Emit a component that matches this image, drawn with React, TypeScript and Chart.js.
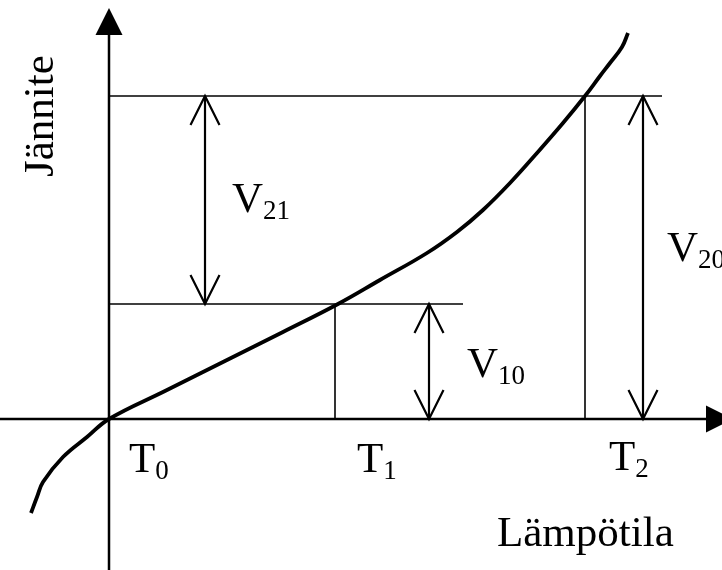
import React, { useEffect, useRef } from "react";
import { Chart, registerables } from "chart.js";

Chart.register(...registerables);

const W = 722;
const H = 570;

// Scale ranges (data units: temperature on x, voltage on y)
const X_MIN = -10.9;
const X_MAX = 61.3;
const Y_MIN = -15.1;
const Y_MAX = 41.9;

// Reference points T0, T1, T2 and the voltages at them
const T_LEVELS = [0, 22.6, 47.6];
const V_LEVELS = [0, 11.5, 32.3];

// Thermocouple characteristic curve
const curveT = [-7.8, -7.2, -6.6, -4.6, -2.2, 0, 5.6, 11.6, 17.4, 22.9, 27.1, 31.8, 34.8, 37.4, 40.1, 42.8, 45.4, 47.6, 49.1, 50.1, 51.3, 51.9];
const curveV = [-9.4, -7.8, -6.3, -3.8, -1.8, 0, 2.8, 5.8, 8.7, 11.5, 13.9, 16.6, 18.7, 20.9, 23.6, 26.6, 29.6, 32.3, 34.3, 35.6, 37.2, 38.6];

// Axis extents
const AXIS_X_END = 62.4; // arrow tip on T axis
const AXIS_Y_END = 41.1; // arrow tip on V axis
const REF_LINE_END = [0, 35.4, 55.3]; // horizontal guide ends at V1, V2

// Difference arrows: [x position, from level index, to level index]
const DIFF_X = [9.6, 32.0, 53.4];
const DIFF_FROM = [1, 0, 0];
const DIFF_TO = [2, 1, 2];

// Labels
const labelMain = ["T", "T", "T", "V", "V", "V"];
const labelSub = ["0", "1", "2", "21", "10", "20"];
const labelX = [2.0, 24.8, 50.0, 12.3, 35.8, 55.8];
const labelY = [-5.3, -5.3, -5.1, 20.7, 4.2, 15.8];
const xTitle = "Lämpötila";
const yTitle = "Jännite";
const xTitlePos = [38.8, -12.7];
const yTitlePos = [-5.6, 24.2];

const FONT = "'Liberation Serif', 'Times New Roman', serif";

function seg(x1: number, y1: number, x2: number, y2: number, width: number) {
  return {
    data: [
      { x: x1, y: y1 },
      { x: x2, y: y2 },
    ],
    borderColor: "#000",
    borderWidth: width,
    pointRadius: 0,
    showLine: true,
    borderCapStyle: "butt" as const,
  };
}

const decorPlugin = {
  id: "decor",
  afterDatasetsDraw(chart: any) {
    const ctx = chart.ctx as CanvasRenderingContext2D;
    const xs = chart.scales.x;
    const ys = chart.scales.y;
    const px = (v: number) => xs.getPixelForValue(v);
    const py = (v: number) => ys.getPixelForValue(v);

    ctx.save();
    ctx.fillStyle = "#000";
    ctx.strokeStyle = "#000";

    // Filled arrowheads on axes
    const tri = (tx: number, ty: number, dx: number, dy: number) => {
      const len = 27;
      const hw = 13.5;
      const bx = tx - dx * len;
      const by = ty - dy * len;
      ctx.beginPath();
      ctx.moveTo(tx, ty);
      ctx.lineTo(bx - dy * hw, by + dx * hw);
      ctx.lineTo(bx + dy * hw, by - dx * hw);
      ctx.closePath();
      ctx.fill();
    };
    tri(px(AXIS_X_END), py(0), 1, 0);
    tri(px(0), py(AXIS_Y_END), 0, -1);

    // Open arrowheads on difference arrows
    const open = (tx: number, ty: number, dir: number) => {
      const len = 29;
      const hw = 14.5;
      ctx.beginPath();
      ctx.moveTo(tx - hw, ty + dir * len);
      ctx.lineTo(tx, ty);
      ctx.lineTo(tx + hw, ty + dir * len);
      ctx.lineWidth = 2.2;
      ctx.lineJoin = "miter";
      ctx.stroke();
    };
    for (let i = 0; i < DIFF_X.length; i++) {
      const x = px(DIFF_X[i]);
      open(x, py(V_LEVELS[DIFF_TO[i]]), 1);
      open(x, py(V_LEVELS[DIFF_FROM[i]]), -1);
    }

    // Labels with subscripts
    ctx.textAlign = "left";
    ctx.textBaseline = "alphabetic";
    for (let i = 0; i < labelMain.length; i++) {
      const x = px(labelX[i]);
      const y = py(labelY[i]);
      ctx.font = `43px ${FONT}`;
      ctx.fillText(labelMain[i], x, y);
      const w = ctx.measureText(labelMain[i]).width;
      ctx.font = `27px ${FONT}`;
      ctx.fillText(labelSub[i], x + w, y + 7);
    }

    ctx.font = `43px ${FONT}`;
    ctx.fillText(xTitle, px(xTitlePos[0]), py(xTitlePos[1]));

    ctx.translate(px(yTitlePos[0]), py(yTitlePos[1]));
    ctx.rotate(-Math.PI / 2);
    ctx.fillText(yTitle, 0, 0);

    ctx.restore();
  },
};

export default function App() {
  const ref = useRef<HTMLCanvasElement | null>(null);

  useEffect(() => {
    if (!ref.current) return;

    const curve = {
      data: curveT.map((t, i) => ({ x: t, y: curveV[i] })),
      borderColor: "#000",
      borderWidth: 3.8,
      pointRadius: 0,
      showLine: true,
      tension: 0.4,
      borderJoinStyle: "round" as const,
    };

    const datasets: any[] = [
      // axes
      seg(X_MIN, 0, AXIS_X_END - 2.0, 0, 2.5),
      seg(0, Y_MIN, 0, AXIS_Y_END - 2.0, 2.5),
      // horizontal guides
      seg(0, V_LEVELS[1], REF_LINE_END[1], V_LEVELS[1], 1.6),
      seg(0, V_LEVELS[2], REF_LINE_END[2], V_LEVELS[2], 1.6),
      // vertical guides
      seg(T_LEVELS[1], 0, T_LEVELS[1], V_LEVELS[1], 1.6),
      seg(T_LEVELS[2], 0, T_LEVELS[2], V_LEVELS[2], 1.6),
      // difference arrow shafts
      ...DIFF_X.map((x, i) => seg(x, V_LEVELS[DIFF_FROM[i]], x, V_LEVELS[DIFF_TO[i]], 2.2)),
      curve,
    ];

    const chart = new Chart(ref.current, {
      type: "scatter",
      data: { datasets },
      options: {
        animation: false,
        responsive: false,
        maintainAspectRatio: false,
        layout: { padding: 0 },
        plugins: { legend: { display: false }, tooltip: { enabled: false } },
        scales: {
          x: { type: "linear", min: X_MIN, max: X_MAX, display: false },
          y: { type: "linear", min: Y_MIN, max: Y_MAX, display: false },
        },
      },
      plugins: [decorPlugin],
    });

    return () => chart.destroy();
  }, []);

  return (
    <div style={{ position: "absolute", left: 0, top: 0, width: W, height: H, background: "#fff" }}>
      <canvas ref={ref} width={W} height={H} style={{ display: "block", width: W, height: H }} />
    </div>
  );
}
